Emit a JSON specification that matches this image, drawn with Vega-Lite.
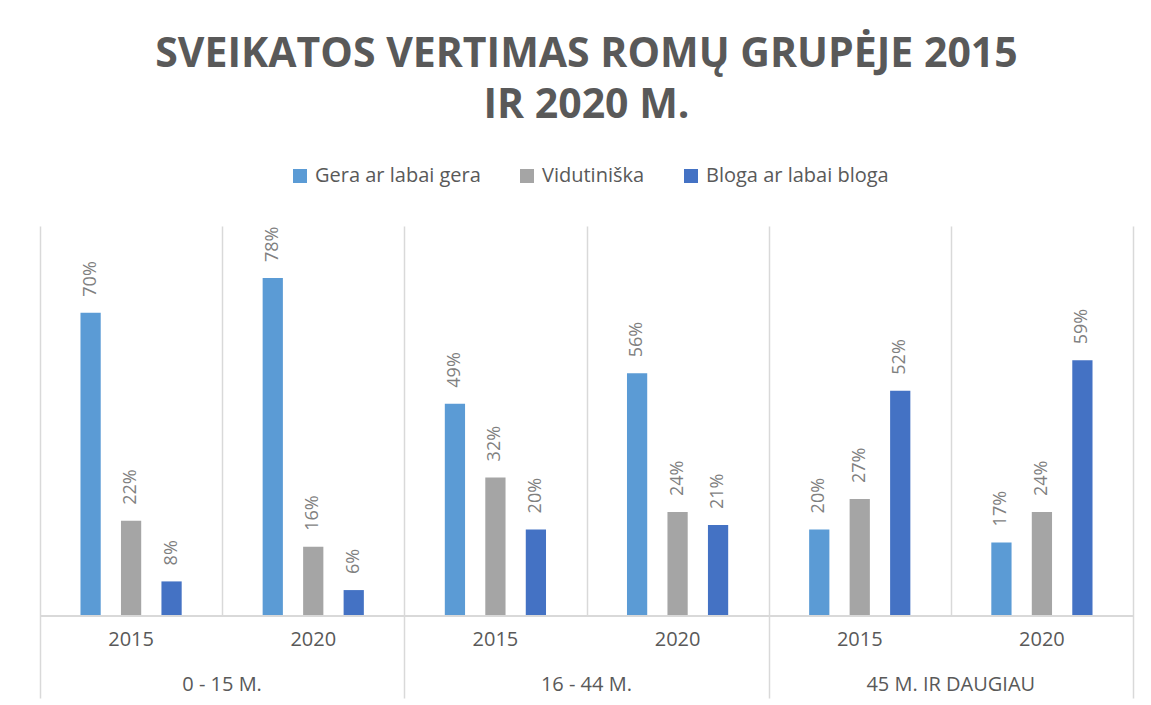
{
  "$schema": "https://vega.github.io/schema/vega-lite/v6.json",
  "width": 1093,
  "height": 472,
  "autosize": {"type": "none"},
  "padding": {"left": 40, "top": 226, "right": 18, "bottom": 7},
  "background": "white",
  "title": {
    "text": ["SVEIKATOS VERTIMAS ROMŲ GRUPĖJE 2015", "IR 2020 M."],
    "font": "Open Sans",
    "fontSize": 41,
    "fontWeight": "bold",
    "color": "#595959",
    "anchor": "middle",
    "lineHeight": 51,
    "offset": 39
  },
  "config": {
    "view": {"stroke": null},
    "text": {"font": "Open Sans"}
  },
  "datasets": {
    "bars": [
      {"age": "0 - 15 M.", "year": "2015", "grp": "0 - 15 M.|2015", "series": "Gera ar labai gera", "value": 0.70},
      {"age": "0 - 15 M.", "year": "2015", "grp": "0 - 15 M.|2015", "series": "Vidutiniška", "value": 0.22},
      {"age": "0 - 15 M.", "year": "2015", "grp": "0 - 15 M.|2015", "series": "Bloga ar labai bloga", "value": 0.08},
      {"age": "0 - 15 M.", "year": "2020", "grp": "0 - 15 M.|2020", "series": "Gera ar labai gera", "value": 0.78},
      {"age": "0 - 15 M.", "year": "2020", "grp": "0 - 15 M.|2020", "series": "Vidutiniška", "value": 0.16},
      {"age": "0 - 15 M.", "year": "2020", "grp": "0 - 15 M.|2020", "series": "Bloga ar labai bloga", "value": 0.06},
      {"age": "16 - 44 M.", "year": "2015", "grp": "16 - 44 M.|2015", "series": "Gera ar labai gera", "value": 0.49},
      {"age": "16 - 44 M.", "year": "2015", "grp": "16 - 44 M.|2015", "series": "Vidutiniška", "value": 0.32},
      {"age": "16 - 44 M.", "year": "2015", "grp": "16 - 44 M.|2015", "series": "Bloga ar labai bloga", "value": 0.20},
      {"age": "16 - 44 M.", "year": "2020", "grp": "16 - 44 M.|2020", "series": "Gera ar labai gera", "value": 0.56},
      {"age": "16 - 44 M.", "year": "2020", "grp": "16 - 44 M.|2020", "series": "Vidutiniška", "value": 0.24},
      {"age": "16 - 44 M.", "year": "2020", "grp": "16 - 44 M.|2020", "series": "Bloga ar labai bloga", "value": 0.21},
      {"age": "45 M. IR DAUGIAU", "year": "2015", "grp": "45 M. IR DAUGIAU|2015", "series": "Gera ar labai gera", "value": 0.20},
      {"age": "45 M. IR DAUGIAU", "year": "2015", "grp": "45 M. IR DAUGIAU|2015", "series": "Vidutiniška", "value": 0.27},
      {"age": "45 M. IR DAUGIAU", "year": "2015", "grp": "45 M. IR DAUGIAU|2015", "series": "Bloga ar labai bloga", "value": 0.52},
      {"age": "45 M. IR DAUGIAU", "year": "2020", "grp": "45 M. IR DAUGIAU|2020", "series": "Gera ar labai gera", "value": 0.17},
      {"age": "45 M. IR DAUGIAU", "year": "2020", "grp": "45 M. IR DAUGIAU|2020", "series": "Vidutiniška", "value": 0.24},
      {"age": "45 M. IR DAUGIAU", "year": "2020", "grp": "45 M. IR DAUGIAU|2020", "series": "Bloga ar labai bloga", "value": 0.59}
    ],
    "groups": [
      {"age": "0 - 15 M.", "year": "2015", "grp": "0 - 15 M.|2015"},
      {"age": "0 - 15 M.", "year": "2020", "grp": "0 - 15 M.|2020"},
      {"age": "16 - 44 M.", "year": "2015", "grp": "16 - 44 M.|2015"},
      {"age": "16 - 44 M.", "year": "2020", "grp": "16 - 44 M.|2020"},
      {"age": "45 M. IR DAUGIAU", "year": "2015", "grp": "45 M. IR DAUGIAU|2015"},
      {"age": "45 M. IR DAUGIAU", "year": "2020", "grp": "45 M. IR DAUGIAU|2020"}
    ]
  },
  "layer": [
    {
      "data": {"name": "bars"},
      "mark": {"type": "bar"},
      "encoding": {
        "x": {
          "field": "grp",
          "type": "nominal",
          "sort": null,
          "scale": {"paddingInner": 0, "paddingOuter": 0},
          "axis": {
            "orient": "top",
            "title": null,
            "labels": false,
            "ticks": false,
            "domain": false,
            "grid": true,
            "tickBand": "extent",
            "gridColor": "#d9d9d9",
            "gridWidth": 1.5,
            "gridDash": {
              "condition": {"test": "indexof('' + datum.value, '2015') >= 0", "value": [0, 82, 391, 1000]},
              "value": []
            }
          }
        },
        "xOffset": {
          "field": "series",
          "type": "nominal",
          "scale": {
            "domain": ["Gera ar labai gera", "Vidutiniška", "Bloga ar labai bloga"],
            "paddingInner": 0.5,
            "paddingOuter": 1
          }
        },
        "y": {
          "field": "value",
          "type": "quantitative",
          "axis": null,
          "scale": {"domain": [-0.189, 0.9], "nice": false, "zero": false}
        },
        "y2": {"datum": 0},
        "color": {
          "field": "series",
          "type": "nominal",
          "scale": {
            "domain": ["Gera ar labai gera", "Vidutiniška", "Bloga ar labai bloga"],
            "range": ["#5B9BD5", "#A5A5A5", "#4472C4"]
          },
          "legend": {
            "title": null,
            "orient": "none",
            "legendX": 250,
            "legendY": -60,
            "direction": "horizontal",
            "columns": 3,
            "padding": 0,
            "symbolType": "square",
            "symbolSize": 196,
            "symbolStrokeWidth": 0,
            "labelFont": "Open Sans",
            "labelFontSize": 20,
            "labelColor": "#595959",
            "labelOffset": 5,
            "columnPadding": 36,
            "labelLimit": 400
          }
        }
      }
    },
    {
      "data": {"name": "bars"},
      "mark": {"type": "text", "angle": 270, "align": "left", "baseline": "middle", "dx": 16, "fontSize": 18, "color": "#7f7f7f"},
      "encoding": {
        "x": {"field": "grp", "type": "nominal"},
        "xOffset": {"field": "series", "type": "nominal"},
        "y": {"field": "value", "type": "quantitative"},
        "text": {"field": "value", "type": "quantitative", "format": ".0%"}
      }
    },
    {
      "data": {"name": "groups"},
      "mark": {"type": "rule", "color": "#d9d9d9", "strokeWidth": 1.5},
      "encoding": {
        "y": {"datum": 0}
      }
    },
    {
      "data": {"name": "groups"},
      "mark": {"type": "text", "align": "center", "baseline": "middle", "fontSize": 20, "color": "#595959"},
      "encoding": {
        "x": {"field": "grp", "type": "nominal"},
        "y": {"datum": -0.055},
        "text": {"field": "year", "type": "nominal"}
      }
    },
    {
      "data": {"name": "groups"},
      "transform": [{"filter": "datum.year == '2015'"}],
      "mark": {"type": "text", "align": "center", "baseline": "middle", "fontSize": 20, "color": "#595959", "dx": 91},
      "encoding": {
        "x": {"field": "grp", "type": "nominal"},
        "y": {"datum": -0.159},
        "text": {"field": "age", "type": "nominal"}
      }
    }
  ]
}
